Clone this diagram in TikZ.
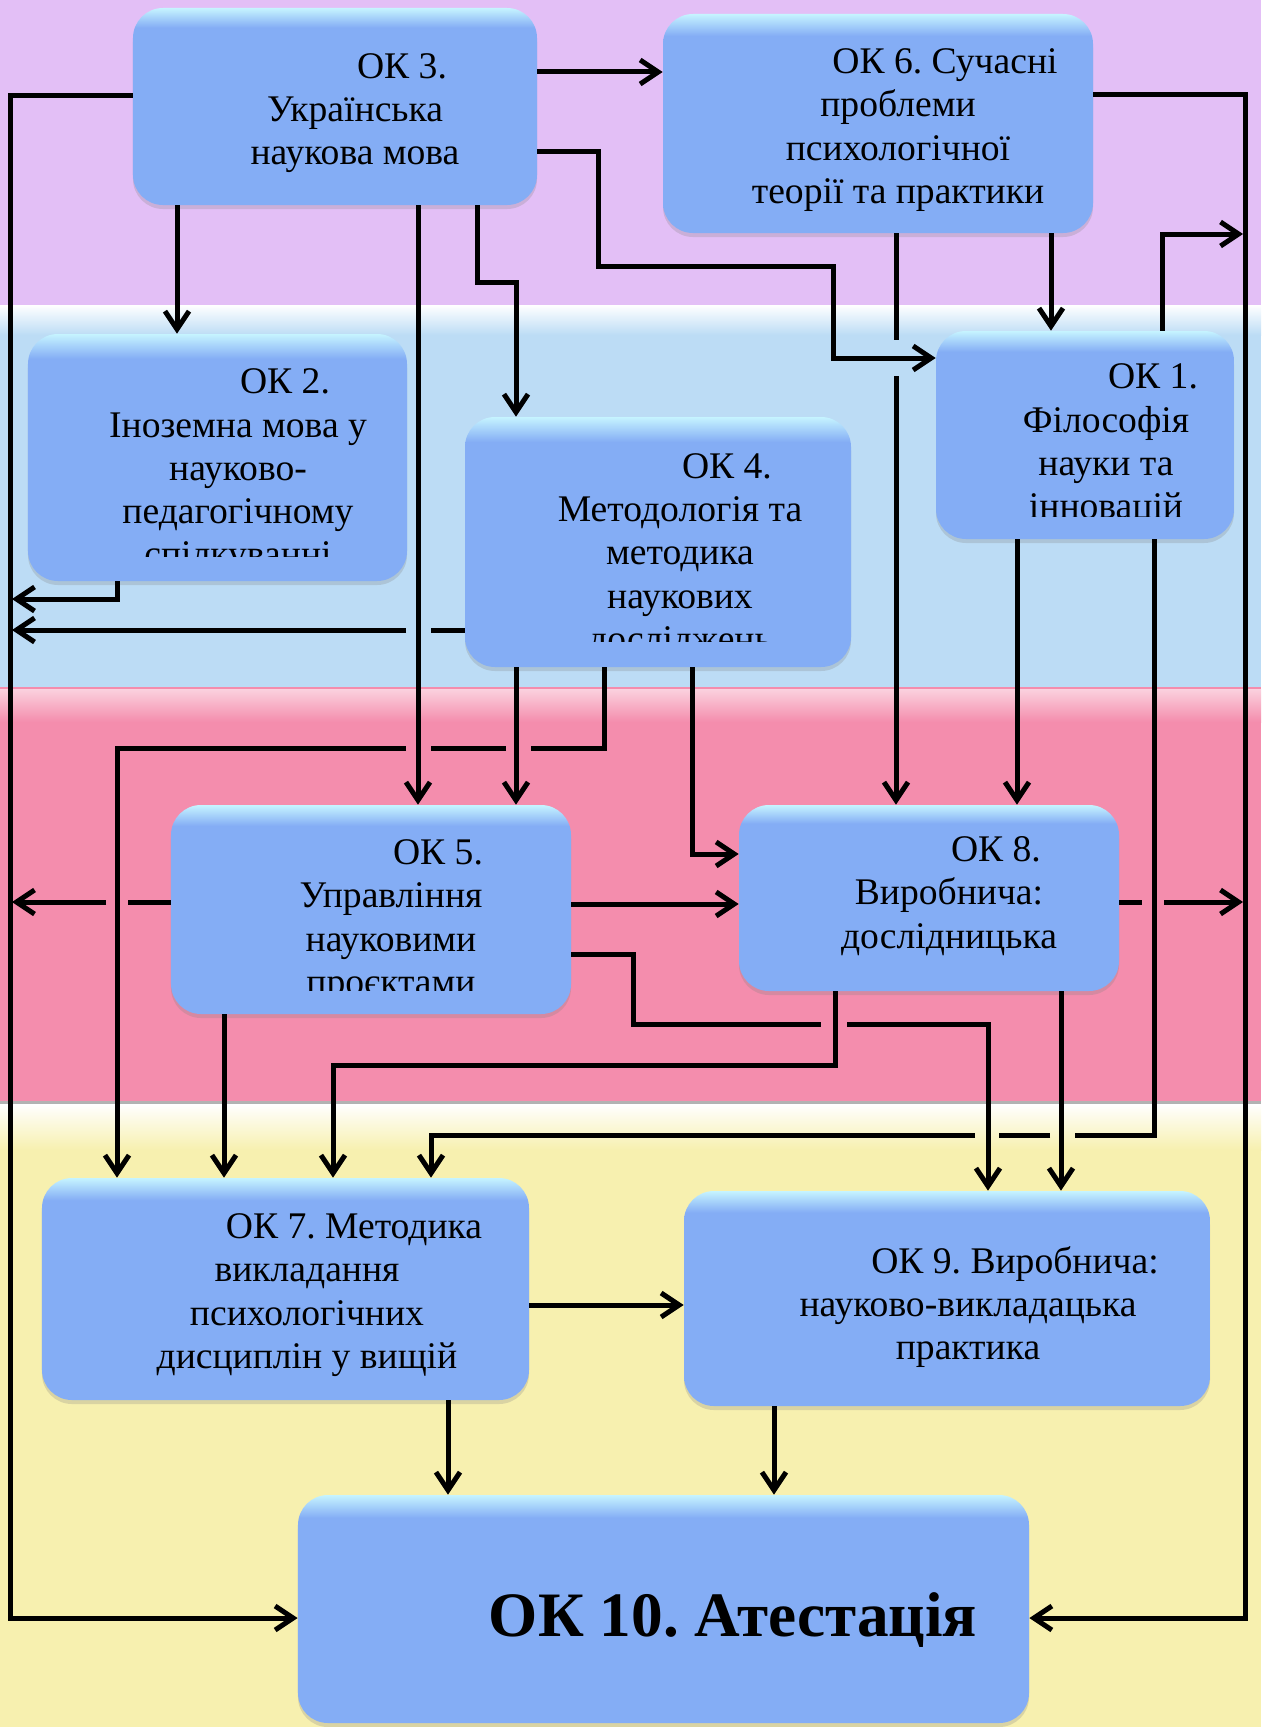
\documentclass[tikz,border=0pt]{standalone}
\usepackage{fontspec}
\setmainfont{Liberation Serif}
\usepackage{tikz}
\usetikzlibrary{arrows.meta,shadows}
\frenchspacing

\definecolor{bandpurple}{HTML}{E3BFF6}
\definecolor{bandblue}{HTML}{BCDCF5}
\definecolor{bandpink}{HTML}{F48DAD}
\definecolor{bandyellow}{HTML}{F7F0AF}
\definecolor{okbase}{HTML}{84ADF5}
\definecolor{oklight}{HTML}{C6F4FF}

\pgfdeclareverticalshading{okshade}{100bp}{color(0bp)=(okbase); color(70bp)=(okbase); color(75bp)=(oklight); color(100bp)=(oklight)}

\tikzset{
  okbox/.style={rounded corners=6mm, shading=okshade, inner sep=0pt,
    drop shadow={opacity=0.25, shadow xshift=0mm, shadow yshift=-0.8mm}},
  oktext/.style={align=center, inner sep=0pt, font=\fontsize{21.4}{24.6}\selectfont},
  conn/.style={line width=1mm, ->},
}
\newcommand{\okshift}{\hspace*{18.8mm}}

\begin{document}
\begin{tikzpicture}[x=0.2mm, y=-0.2mm, >={Straight Barb[length=3.6mm,width=4.8mm]}]
  \useasboundingbox (0,0) rectangle (1261,1727);

  % Dessiner les bandes
  \foreach \c/\ya/\yb in {bandpurple/0/305, bandblue/305/687, bandpink/687/1103, bandyellow/1103/1727}
    \fill[\c] (0,\ya) rectangle (1261,\yb);
  \shade[top color=white, bottom color=bandblue] (0,305) rectangle (1261,335);
  \shade[top color=white!60!bandpink, bottom color=bandpink] (0,689) rectangle (1261,722);
  \fill[black!30] (0,1101) rectangle (1261,1104);
  \shade[top color=white, bottom color=bandyellow] (0,1104) rectangle (1261,1150);

  % Les cases
  \node[okbox, minimum width=80.8mm, minimum height=39.4mm] (ok3) at (335,106.5) {};
  \node[okbox, minimum width=86mm, minimum height=43.8mm] (ok6) at (878,123.5) {};
  \node[okbox, minimum width=75.8mm, minimum height=49.4mm] (ok2) at (217.5,457.5) {};
  \node[okbox, minimum width=77.2mm, minimum height=50mm] (ok4) at (658,542) {};
  \node[okbox, minimum width=59.6mm, minimum height=41.6mm] (ok1) at (1085,435) {};
  \node[okbox, minimum width=80mm, minimum height=41.8mm] (ok5) at (371,909.5) {};
  \node[okbox, minimum width=76mm, minimum height=37.2mm] (ok8) at (929,898) {};
  \node[okbox, minimum width=97.4mm, minimum height=44.4mm] (ok7) at (285.5,1289) {};
  \node[okbox, minimum width=105.2mm, minimum height=43mm] (ok9) at (947,1298.5) {};
  \node[okbox, minimum width=146.2mm, minimum height=45.6mm] (ok10) at (663.5,1609) {};

  % Les textes
  \node[oktext] (t3) at (355,113) {\okshift ОК 3.\\Українська\\наукова мова};
  \node[oktext] (t6) at (898,130) {\okshift ОК 6. Сучасні\\проблеми\\психологічної\\теорії та практики};
  \begin{scope}
    \clip (28,334) rectangle (407,556);
    \node[oktext] (t2) at (238,472) {\okshift ОК 2.\\Іноземна мова у\\науково-\\педагогічному\\спілкуванні};
  \end{scope}
  \begin{scope}
    \clip (465,417) rectangle (851,641);
    \node[oktext] (t4) at (680,556) {\okshift ОК 4.\\Методологія та\\методика\\наукових\\досліджень};
  \end{scope}
  \begin{scope}
    \clip (936,331) rectangle (1234,516);
    \node[oktext] (t1) at (1106,445) {\okshift ОК 1.\\Філософія\\науки та\\інновацій};
  \end{scope}
  \begin{scope}
    \clip (171,805) rectangle (571,990);
    \node[oktext] (t5) at (391,921) {\okshift ОК 5.\\Управління\\науковими\\проєктами};
  \end{scope}
  \node[oktext] (t8) at (949,896) {\okshift ОК 8.\\Виробнича:\\дослідницька};
  \node[oktext] (t7) at (307,1295) {\okshift ОК 7. Методика\\викладання\\психологічних\\дисциплін у вищій};
  \node[oktext] (t9) at (968,1307) {\okshift ОК 9. Виробнича:\\науково-викладацька\\практика};
  \node[oktext, font=\fontsize{36}{40}\selectfont\bfseries] (t10) at (733,1620) {ОК 10. Атестація};

  % Les flèches
  \draw[conn] (ok3.east |- 0,72) -- (ok6.west |- 0,72);
  \draw[conn] (ok3.east |- 0,151) -| (598,266) -| (833,358) -- (ok1.west |- 0,358);
  \draw[conn] (ok3.west |- 0,96) -| (10,1618) -- (ok10.west |- 0,1618);
  \draw[conn] (177,0 |- ok3.south) -- (177,0 |- ok2.north);
  \draw[conn] (418,0 |- ok3.south) -- (418,0 |- ok5.north);
  \draw[conn] (477,0 |- ok3.south) |- (516,282) -- (516,0 |- ok4.north);
  \draw[conn] (896,0 |- ok6.south) -- (896,340) (896,376) -- (896,0 |- ok8.north);
  \draw[conn] (1051,0 |- ok6.south) -- (1051,0 |- ok1.north);
  \draw[conn] (ok6.east |- 0,95) -| (1245,1618) -- (ok10.east |- 0,1618);
  \draw[conn] (1162,0 |- ok1.north) |- (1243,234);
  \draw[conn] (1017,0 |- ok1.south) -- (1017,0 |- ok8.north);
  \draw[conn] (1154,0 |- ok1.south) |- (1075,1135) (1050,1135) -- (999,1135) (975,1135) -| (431,0 |- ok7.north);
  \draw[conn] (117,0 |- ok2.south) |- (12,599);
  \draw[conn] (ok4.west |- 0,630) -- (431,630) (406,630) -- (12,630);
  \draw[conn] (516,0 |- ok4.south) -- (516,0 |- ok5.north);
  \draw[conn] (604,0 |- ok4.south) |- (531,748) (506,748) -- (431,748) (406,748) -| (117,0 |- ok7.north);
  \draw[conn] (692,0 |- ok4.south) |- (ok8.west |- 0,854);
  \draw[conn] (ok5.east |- 0,904) -- (ok8.west |- 0,904);
  \draw[conn] (ok5.west |- 0,902) -- (128,902) (106,902) -- (12,902);
  \draw[conn] (ok5.east |- 0,954) -| (633,1024) -- (821,1024) (847,1024) -| (988,0 |- ok9.north);
  \draw[conn] (224,0 |- ok5.south) -- (224,0 |- ok7.north);
  \draw[conn] (835,0 |- ok8.south) |- (333,1065) -- (333,0 |- ok7.north);
  \draw[conn] (1061,0 |- ok8.south) -- (1061,0 |- ok9.north);
  \draw[conn] (ok8.east |- 0,902) -- (1142,902) (1164,902) -- (1243,902);
  \draw[conn] (ok7.east |- 0,1305) -- (ok9.west |- 0,1305);
  \draw[conn] (448,0 |- ok7.south) -- (448,0 |- ok10.north);
  \draw[conn] (774,0 |- ok9.south) -- (774,0 |- ok10.north);
\end{tikzpicture}
\end{document}
